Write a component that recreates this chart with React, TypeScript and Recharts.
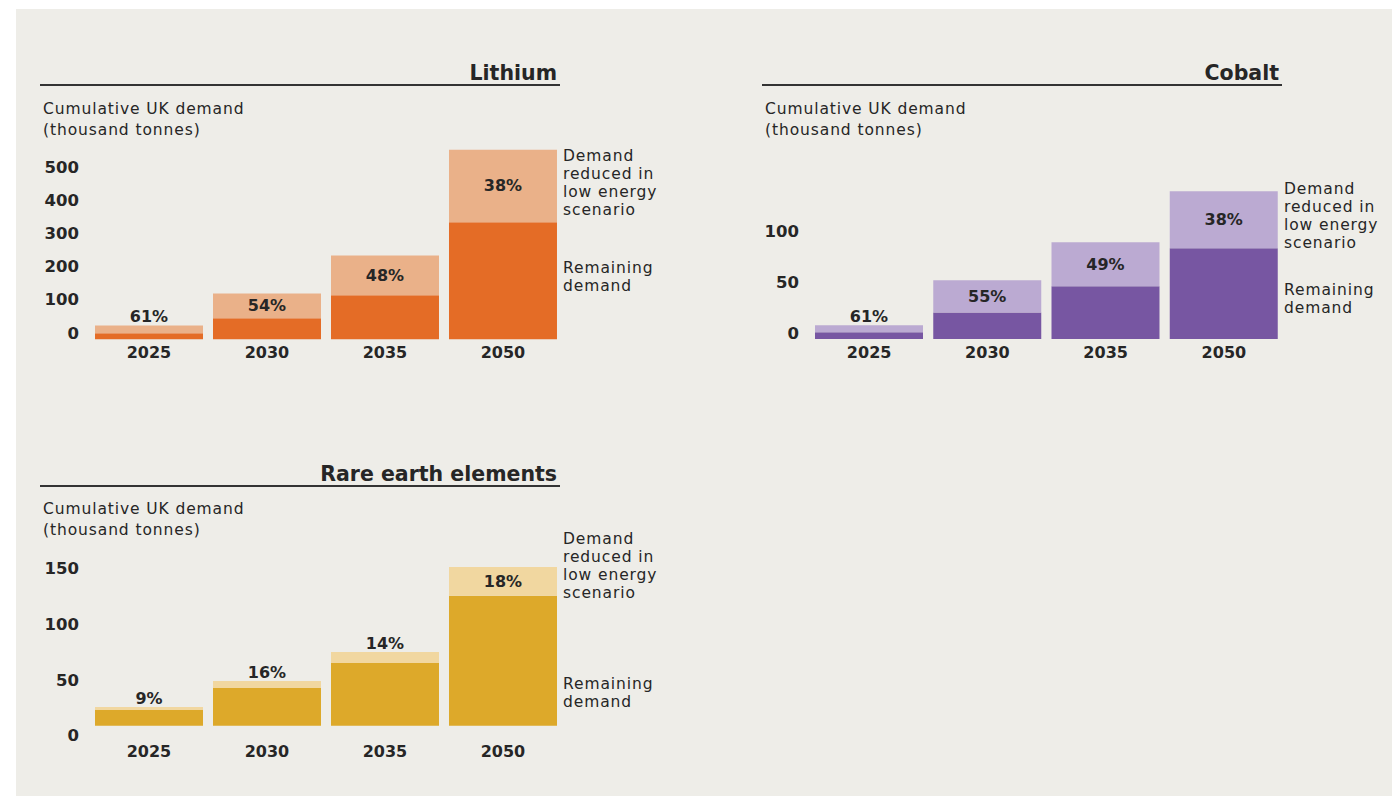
import { BarChart, Bar, XAxis, YAxis, LabelList } from "recharts";

const FONT = "'DejaVu Sans', sans-serif";
const INK = "#262626";
const BG = "#EEEDE8";

const YEARS = ["2025", "2030", "2035", "2050"];

const LITHIUM_TOTAL = [41, 138, 252, 571];
const LITHIUM_REMAINING = [18, 63, 132, 352];
const LITHIUM_PCT = ["61%", "54%", "48%", "38%"];
const LITHIUM_TICKS = [0, 100, 200, 300, 400, 500];

const COBALT_TOTAL = [13.4, 57.5, 94.8, 144.8];
const COBALT_REMAINING = [6.6, 26, 51.7, 88.9];
const COBALT_PCT = ["61%", "55%", "49%", "38%"];
const COBALT_TICKS = [0, 50, 100];

const REE_TOTAL = [16.8, 40.2, 66.3, 142.7];
const REE_REMAINING = [14.1, 33.9, 56.4, 116.9];
const REE_PCT = ["9%", "16%", "14%", "18%"];
const REE_TICKS = [0, 50, 100, 150];

const AXIS_LABEL = ["Cumulative UK demand", "(thousand tonnes)"];
const NOTE_REDUCED = ["Demand", "reduced in", "low energy", "scenario"];
const NOTE_REMAINING = ["Remaining", "demand"];

type Rect = { left: number; right: number; top: number; bottom: number };

type PanelProps = {
  title: string;
  total: number[];
  remaining: number[];
  pct: string[];
  ticks: number[];
  yMax: number;
  plot: Rect;
  dark: string;
  light: string;
  tickShift: number;
  catOffset: number;
  ruleLeft: number;
  ruleRight: number;
  ruleY: number;
  labelY: number;
  noteX: number;
  reducedY: number;
  remainingY: number;
};

const Y_W = 60;
const X_H = 40;

function PctLabel(props: any) {
  const { x, y, width, height, value } = props;
  const inside = height >= 20;
  const cy = inside ? y + height / 2 : y - 9;
  return (
    <text
      x={x + width / 2}
      y={cy}
      textAnchor="middle"
      dominantBaseline="central"
      fontFamily={FONT}
      fontWeight={700}
      fontSize={16}
      fill={INK}
    >
      {value}
    </text>
  );
}

// één regel tekst per div, gecentreerd op cy
function Lines({ lines, x, firstY, step }: { lines: string[]; x: number; firstY: number; step: number }) {
  return (
    <>
      {lines.map((s, i) => (
        <div
          key={i}
          style={{
            position: "absolute",
            left: x,
            top: firstY + i * step - step / 2,
            height: step,
            lineHeight: `${step}px`,
            fontFamily: FONT,
            fontSize: 15.5,
            letterSpacing: 0.9,
            color: INK,
            whiteSpace: "nowrap",
          }}
        >
          {s}
        </div>
      ))}
    </>
  );
}

function Panel(p: PanelProps) {
  const data = YEARS.map((year, i) => ({
    year,
    remaining: p.remaining[i],
    reduced: p.total[i] - p.remaining[i],
    pct: p.pct[i],
  }));

  const left = p.plot.left - Y_W;
  const top = p.plot.top - 10;
  const width = p.plot.right - left + 10;
  const height = p.plot.bottom + X_H - top;
  const plotBottom = height - X_H;

  return (
    <>
      <div
        style={{
          position: "absolute",
          left: p.ruleLeft,
          width: p.ruleRight - p.ruleLeft - 3,
          top: p.ruleY - 24,
          textAlign: "right",
          fontFamily: FONT,
          fontWeight: 700,
          fontSize: 20.5,
          lineHeight: "26px",
          color: INK,
        }}
      >
        {p.title}
      </div>
      <div
        style={{
          position: "absolute",
          left: p.ruleLeft,
          width: p.ruleRight - p.ruleLeft,
          top: p.ruleY,
          height: 1.5,
          background: "#333",
        }}
      />
      <Lines lines={AXIS_LABEL} x={p.ruleLeft + 3} firstY={p.labelY} step={21} />

      <div style={{ position: "absolute", left, top }}>
        <BarChart width={width} height={height} data={data} margin={{ top: 10, right: 10, bottom: 0, left: 0 }}>
          <XAxis
            dataKey="year"
            axisLine={false}
            tickLine={false}
            interval={0}
            height={X_H}
            tick={(t: any) => (
              <text
                x={t.x}
                y={plotBottom + p.catOffset}
                textAnchor="middle"
                dominantBaseline="central"
                fontFamily={FONT}
                fontWeight={700}
                fontSize={16}
                fill={INK}
              >
                {t.payload.value}
              </text>
            )}
          />
          <YAxis
            domain={[0, p.yMax]}
            ticks={p.ticks}
            axisLine={false}
            tickLine={false}
            width={Y_W}
            tick={(t: any) => (
              <text
                x={Y_W - 11}
                y={t.y + p.tickShift}
                textAnchor="end"
                dominantBaseline="central"
                fontFamily={FONT}
                fontWeight={700}
                fontSize={16.5}
                fill={INK}
              >
                {t.payload.value}
              </text>
            )}
          />
          <Bar dataKey="remaining" stackId="a" fill={p.dark} barSize={108} isAnimationActive={false} />
          <Bar dataKey="reduced" stackId="a" fill={p.light} barSize={108} isAnimationActive={false}>
            <LabelList dataKey="pct" content={PctLabel} />
          </Bar>
        </BarChart>
      </div>

      {/* annotaties naast 2050 */}
      <Lines lines={NOTE_REDUCED} x={p.noteX} firstY={p.reducedY} step={18} />
      <Lines lines={NOTE_REMAINING} x={p.noteX} firstY={p.remainingY} step={18} />
    </>
  );
}

export default function App() {
  return (
    <div style={{ position: "absolute", left: 0, top: 0, width: 1392, height: 796, background: "#fff" }}>
      <div style={{ position: "absolute", left: 16, top: 9, width: 1376, height: 787, background: BG }} />

      <Panel
        title="Lithium"
        total={LITHIUM_TOTAL}
        remaining={LITHIUM_REMAINING}
        pct={LITHIUM_PCT}
        ticks={LITHIUM_TICKS}
        yMax={600}
        plot={{ left: 90, right: 562, top: 139.5, bottom: 338.7 }}
        dark="#E46C26"
        light="#EAB189"
        tickShift={-6}
        catOffset={13}
        ruleLeft={40}
        ruleRight={560}
        ruleY={84}
        labelY={109}
        noteX={563}
        reducedY={156}
        remainingY={268}
      />
      <Panel
        title="Cobalt"
        total={COBALT_TOTAL}
        remaining={COBALT_REMAINING}
        pct={COBALT_PCT}
        ticks={COBALT_TICKS}
        yMax={150}
        plot={{ left: 810, right: 1283, top: 185.7, bottom: 338.7 }}
        dark="#7756A2"
        light="#BBAAD2"
        tickShift={-6}
        catOffset={13}
        ruleLeft={762}
        ruleRight={1282}
        ruleY={84}
        labelY={109}
        noteX={1284}
        reducedY={189}
        remainingY={290}
      />
      <Panel
        title="Rare earth elements"
        total={REE_TOTAL}
        remaining={REE_REMAINING}
        pct={REE_PCT}
        ticks={REE_TICKS}
        yMax={150}
        plot={{ left: 90, right: 562, top: 558.9, bottom: 725.7 }}
        dark="#DDA92A"
        light="#F1D7A0"
        tickShift={10}
        catOffset={26}
        ruleLeft={40}
        ruleRight={560}
        ruleY={485}
        labelY={509}
        noteX={563}
        reducedY={539}
        remainingY={684}
      />
    </div>
  );
}
